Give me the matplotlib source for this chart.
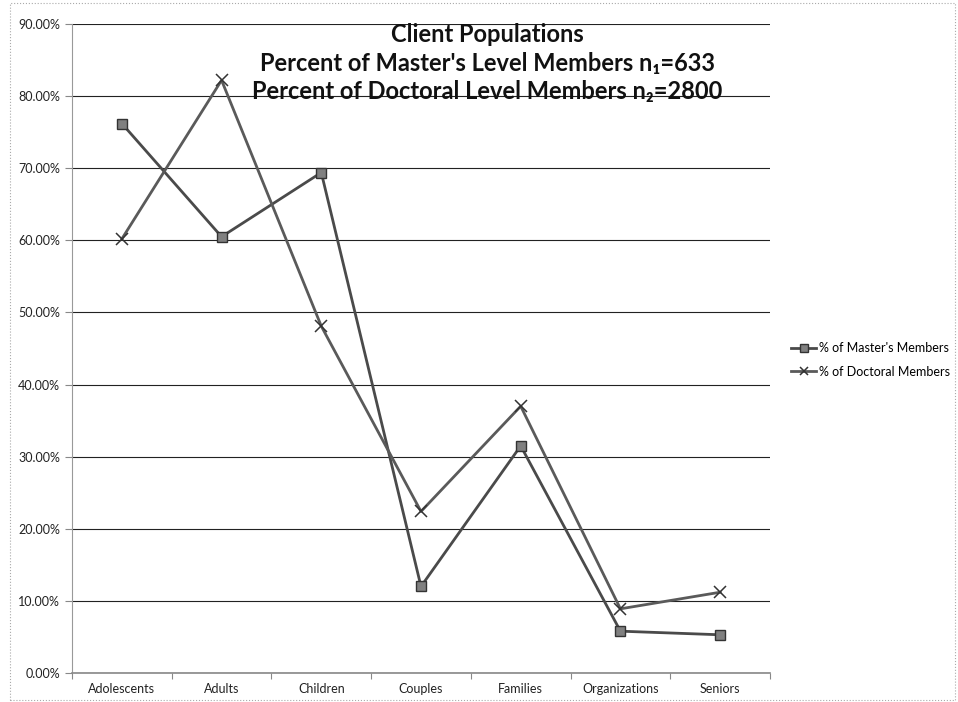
import matplotlib.pyplot as plt
import numpy as np
from matplotlib.patches import Rectangle
from matplotlib.ticker import FuncFormatter

categories = ['Adolescents', 'Adults', 'Children', 'Couples', 'Families', 'Organizations', 'Seniors']
masters = [76.2, 60.5, 69.4, 12.0, 31.5, 5.8, 5.3]
doctoral = [60.2, 82.2, 48.1, 22.4, 37.0, 8.9, 11.2]

plt.rcParams['font.family'] = ['Lato', 'DejaVu Sans']

fig = plt.figure(figsize=(9.58, 7.02), dpi=100)
ax = fig.add_axes([72 / 958, 1 - 673 / 702, (770 - 72) / 958, (673 - 24) / 702])

x = np.arange(len(categories)) + 0.5
ax.plot(x, masters, color='#4a4a4a', linewidth=2, marker='s', markersize=7.5,
        markerfacecolor='#808080', markeredgecolor='#333333', label="% of Master's Members")
ax.plot(x, doctoral, color='#5a5a5a', linewidth=2, marker='x', markersize=9,
        markeredgecolor='#333333', markeredgewidth=1.1, label='% of Doctoral Members')

ax.set_xlim(0, len(categories))
ax.set_ylim(0, 90)
ax.set_yticks(np.arange(0, 91, 10))
ax.yaxis.set_major_formatter(FuncFormatter(lambda v, p: f'{v:.2f}%'))
ax.set_xticks(np.arange(len(categories) + 1))
ax.set_xticklabels([])
ax.set_xticks(x, minor=True)
ax.set_xticklabels(categories, minor=True)
ax.tick_params(axis='x', which='minor', length=0, labelsize=9, pad=7, colors='#222222')
ax.tick_params(axis='x', which='major', length=4, color='#888888')
ax.tick_params(axis='y', length=5, color='#888888', labelsize=9, labelcolor='#222222')

ax.grid(axis='y', color='#222222', linewidth=0.8)
ax.set_axisbelow(True)
for side in ['top', 'right']:
    ax.spines[side].set_visible(False)
ax.spines['left'].set_color('#999999')
ax.spines['bottom'].set_color('#888888')
ax.spines['bottom'].set_linewidth(1.2)

title_x = 487 / 958
fig.text(title_x, 1 - 34 / 702, 'Client Populations', ha='center', va='center',
         fontsize=17, fontweight='bold', color='#111111')
fig.text(title_x, 1 - 63 / 702, "Percent of Master's Level Members n\u2081=633", ha='center',
         va='center', fontsize=17, fontweight='bold', color='#111111')
fig.text(title_x, 1 - 92 / 702, 'Percent of Doctoral Level Members n\u2082=2800', ha='center',
         va='center', fontsize=17, fontweight='bold', color='#111111')

fig.legend(loc='center left', bbox_to_anchor=(780 / 958, 1 - 360 / 702), frameon=False,
           fontsize=9, handlelength=2.0, handletextpad=0.2, labelspacing=0.9,
           markerscale=0.7)

fig.patches.append(Rectangle((10 / 958, 2 / 702), 945 / 958, 697 / 702, transform=fig.transFigure,
                             fill=False, edgecolor='#aaaaaa', linewidth=0.8, linestyle=':'))

plt.savefig('out.png', dpi=100)
